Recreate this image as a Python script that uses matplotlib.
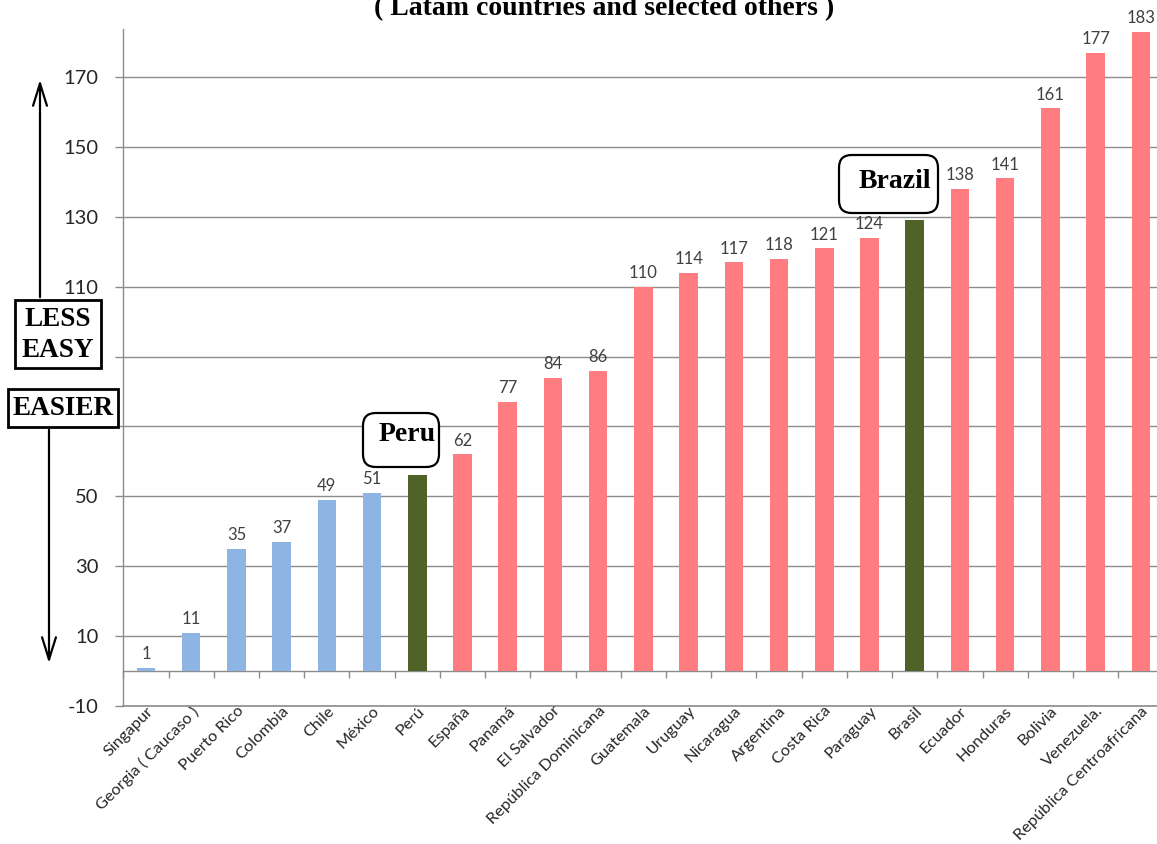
import matplotlib
matplotlib.use("Agg")
import matplotlib.pyplot as plt
from matplotlib.patches import FancyBboxPatch, Rectangle, FancyArrowPatch
from matplotlib import transforms

# Ranking values per country
countries = ["Singapur", "Georgia ( Caucaso )", "Puerto Rico", "Colombia", "Chile",
             "México", "Perú", "España", "Panamá", "El Salvador",
             "República Dominicana", "Guatemala", "Uruguay", "Nicaragua",
             "Argentina", "Costa Rica", "Paraguay", "Brasil", "Ecuador",
             "Honduras", "Bolivia", "Venezuela.", "República Centroafricana"]
ranks = [1, 11, 35, 37, 49, 51, 56, 62, 77, 84, 86, 110, 114, 117, 118,
         121, 124, 129, 138, 141, 161, 177, 183]
highlighted = ["Perú", "Brasil"]
y_ticks = [-10, 10, 30, 50, 70, 90, 110, 130, 150, 170]
y_tick_labels = ["-10", "10", "30", "50", "", "", "110", "130", "150", "170"]
title = "( Latam countries and selected others )"

W, H = 1157, 844
BLUE = "#8DB4E2"
PINK = "#FF7C80"
GREEN = "#4F6228"
GRID = "#8C8C8C"
TXT = "#262626"

fig = plt.figure(figsize=(W / 100, H / 100), dpi=100)


def fx(px):
    return px / W


def fy(py):
    return 1 - py / H


# axes in pixel geometry: y=-10 at 706 px, y=170 at 77 px
y_lo, y_hi = -10, 183.6
px_per_unit = (706 - 77) / 180.0
top_px = 706 - (y_hi - y_lo) * px_per_unit
ax_left, ax_right = 123.4, 1163.4
ax = fig.add_axes([fx(ax_left), fy(706), fx(ax_right - ax_left), (706 - top_px) / H])

n = len(countries)
peru_idx = countries.index(highlighted[0])
colors = []
for i, c in enumerate(countries):
    if c in highlighted:
        colors.append(GREEN)
    elif i < peru_idx:
        colors.append(BLUE)
    else:
        colors.append(PINK)

x = list(range(n))
ax.bar(x, ranks, width=0.41, color=colors, zorder=3)

ax.set_xlim(-0.5, n - 0.5)
ax.set_ylim(y_lo, y_hi)

# y axis
ax.set_yticks(y_ticks)
ax.set_yticklabels(y_tick_labels, fontfamily="Lato", fontsize=14.5, color=TXT)
ax.tick_params(axis="y", direction="out", length=6, width=1, color=GRID, pad=12)
ax.grid(axis="y", color=GRID, linewidth=1, zorder=0)
ax.axhline(y_lo, color=GRID, linewidth=1.2, clip_on=False, zorder=1)

for s in ["top", "right"]:
    ax.spines[s].set_visible(False)
ax.spines["left"].set_color(GRID)
ax.spines["left"].set_linewidth(1)

# category axis crosses at zero, tick marks between categories
ax.spines["bottom"].set_position(("data", 0))
ax.spines["bottom"].set_color(GRID)
ax.spines["bottom"].set_linewidth(1)
ax.set_xticks([i - 0.5 for i in range(n + 1)])
ax.set_xticklabels([])
ax.tick_params(axis="x", direction="out", length=5, width=1, color=GRID)

# category labels below the chart area
lab_tr = transforms.offset_copy(ax.transData, fig=fig, x=0, y=2, units="dots")
for i, c in enumerate(countries):
    ax.text(i, y_lo, c, rotation=45, ha="right", va="top", rotation_mode="anchor",
            fontfamily="Lato", fontsize=11.8, color=TXT, transform=lab_tr,
            clip_on=False)

# value labels above each bar
for i, v in enumerate(ranks):
    ax.annotate(str(v), (i, v), xytext=(0, 4), textcoords="offset points",
                ha="center", va="bottom", fontfamily="Lato", fontsize=12,
                color="#404040", zorder=6, annotation_clip=False)

# title, partly above the top edge
fig.text(fx(604), fy(15), title, ha="center", va="baseline",
         fontfamily="Liberation Serif", fontweight="bold", fontsize=20, color="black")

SERIF = dict(fontfamily="Liberation Serif", fontweight="bold", color="black")

# callouts for the highlighted countries
for (x0, y0, x1, y1, label, ty) in [(363, 413, 439, 467, "Peru", 434),
                                     (839, 155, 938, 213, "Brazil", 182)]:
    box = FancyBboxPatch((fx(x0), fy(y1)), fx(x1 - x0), (y1 - y0) / H,
                         boxstyle="round,pad=0,rounding_size=0.011",
                         transform=fig.transFigure, fc="white", ec="black",
                         lw=1.6, zorder=4, mutation_aspect=W / H)
    fig.add_artist(box)
    fig.text(fx((x0 + x1) / 2 + 6), fy(ty), label, ha="center", va="center",
             fontsize=20, zorder=5, **SERIF)

# difficulty boxes on the left
for (x0, y0, x1, y1, label) in [(15, 300, 101, 368, "LESS\nEASY"),
                                (8, 389, 118, 427, "EASIER")]:
    rect = Rectangle((fx(x0), fy(y1)), fx(x1 - x0), (y1 - y0) / H,
                     transform=fig.transFigure, fc="white", ec="black", lw=2, zorder=4)
    fig.add_artist(rect)
    fig.text(fx((x0 + x1) / 2), fy((y0 + y1) / 2 + 1), label, ha="center", va="center",
             fontsize=19.5, linespacing=1.3, zorder=5, **SERIF)

# direction arrows
for (xa, ya, xb, yb) in [(40, 300, 40, 77), (49, 427, 49, 666)]:
    arr = FancyArrowPatch((fx(xa), fy(ya)), (fx(xb), fy(yb)), transform=fig.transFigure,
                          arrowstyle="->,head_length=16,head_width=5",
                          mutation_scale=1, lw=1.6, color="black", zorder=4)
    fig.add_artist(arr)

fig.savefig("out.png", dpi=100)
